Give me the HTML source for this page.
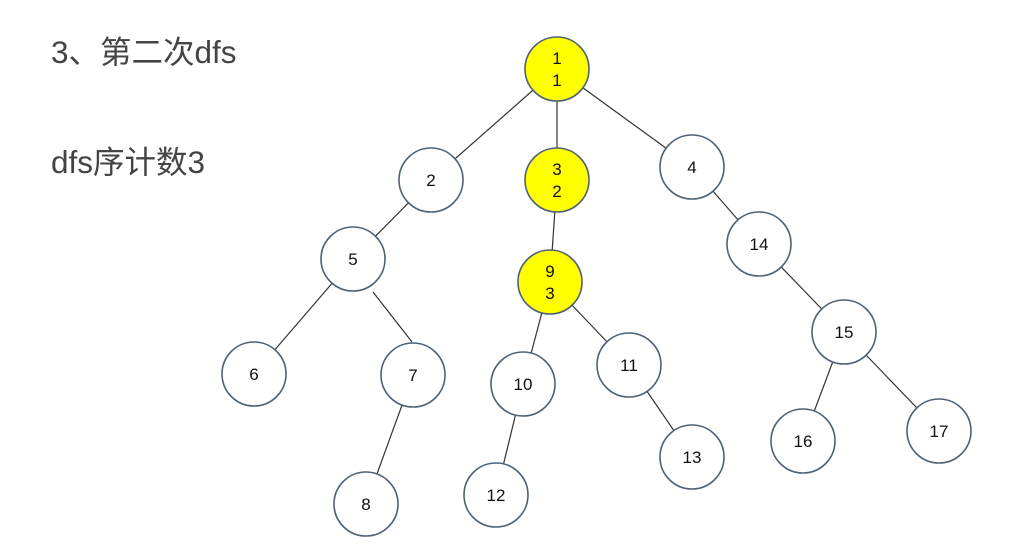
<!DOCTYPE html>
<html><head><meta charset="utf-8"><style>
html,body{margin:0;padding:0;background:#fff;}
svg{display:block}
</style></head><body>
<svg width="1009" height="553" viewBox="0 0 1009 553" xmlns="http://www.w3.org/2000/svg">
<g font-family="Liberation Sans, Noto Sans CJK SC, sans-serif" fill="#444" font-size="31.5">
<text x="51" y="63">3、第二次dfs</text>
<text x="51" y="173">dfs序计数3</text>
</g>
<g stroke="#333" stroke-width="1.2">
<line x1="557" y1="69" x2="431" y2="180"/>
<line x1="557" y1="69" x2="557" y2="180"/>
<line x1="557" y1="69" x2="692" y2="167"/>
<line x1="431" y1="180" x2="353" y2="259"/>
<line x1="557" y1="180" x2="550" y2="282"/>
<line x1="692" y1="167" x2="759" y2="244"/>
<line x1="353" y1="259" x2="254" y2="374"/>
<line x1="373" y1="292" x2="412" y2="342"/>
<line x1="413" y1="375" x2="366" y2="504"/>
<line x1="550" y1="282" x2="523" y2="384"/>
<line x1="550" y1="282" x2="629" y2="365"/>
<line x1="523" y1="384" x2="496" y2="495"/>
<line x1="629" y1="365" x2="692" y2="457"/>
<line x1="759" y1="244" x2="844" y2="332"/>
<line x1="844" y1="332" x2="803" y2="441"/>
<line x1="844" y1="332" x2="939" y2="431"/>
</g>
<g stroke="#4e6276" stroke-width="1.6" fill="#fff">
<circle cx="557" cy="69" r="32" fill="#ffff00"/>
<circle cx="431" cy="180" r="32"/>
<circle cx="557" cy="180" r="32" fill="#ffff00"/>
<circle cx="692" cy="167" r="32"/>
<circle cx="353" cy="259" r="32"/>
<circle cx="550" cy="282" r="32" fill="#ffff00"/>
<circle cx="759" cy="244" r="32"/>
<circle cx="254" cy="374" r="32"/>
<circle cx="413" cy="375" r="32"/>
<circle cx="523" cy="384" r="32"/>
<circle cx="629" cy="365" r="32"/>
<circle cx="844" cy="332" r="32"/>
<circle cx="366" cy="504" r="32"/>
<circle cx="496" cy="495" r="32"/>
<circle cx="692" cy="457" r="32"/>
<circle cx="803" cy="441" r="32"/>
<circle cx="939" cy="431" r="32"/>
</g>
<g font-family="Liberation Sans, sans-serif" font-size="17" fill="#111" text-anchor="middle">
<text x="557" y="64">1</text><text x="557" y="86">1</text>
<text x="557" y="175">3</text><text x="557" y="197">2</text>
<text x="550" y="277">9</text><text x="550" y="299">3</text>
<text x="431" y="186">2</text>
<text x="692" y="173">4</text>
<text x="353" y="265">5</text>
<text x="759" y="250">14</text>
<text x="254" y="380">6</text>
<text x="413" y="381">7</text>
<text x="523" y="390">10</text>
<text x="629" y="371">11</text>
<text x="844" y="338">15</text>
<text x="366" y="510">8</text>
<text x="496" y="501">12</text>
<text x="692" y="463">13</text>
<text x="803" y="447">16</text>
<text x="939" y="437">17</text>
</g>
</svg>
</body></html>
